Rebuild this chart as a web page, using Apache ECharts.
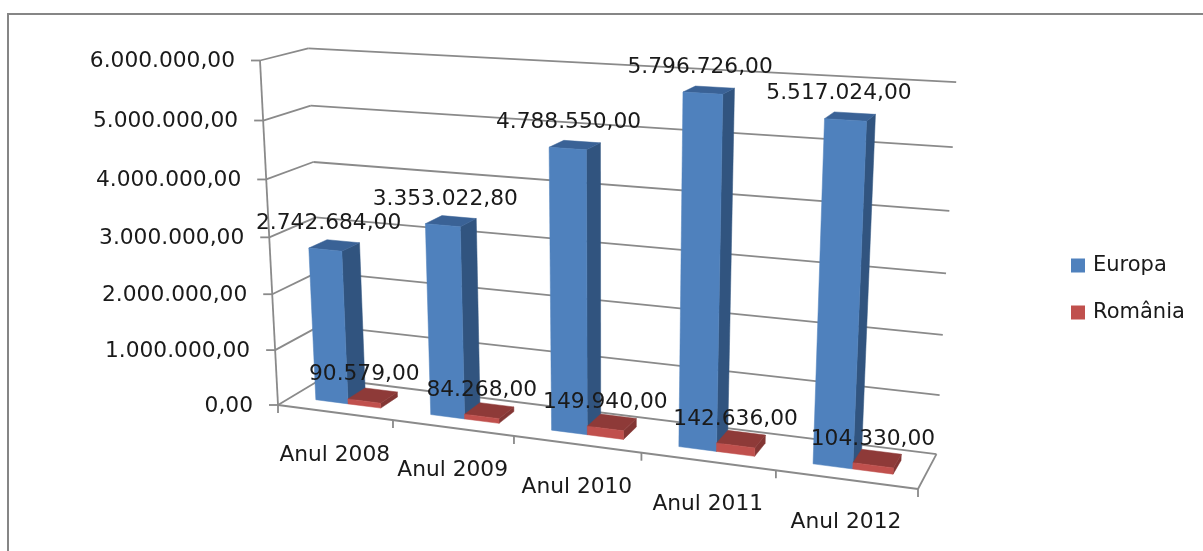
<!DOCTYPE html>
<html>
<head>
<meta charset="utf-8">
<style>html,body{margin:0;padding:0;background:#fff}#chart{width:1203px;height:551px}</style>
<script src="https://cdn.jsdelivr.net/npm/echarts@6/dist/echarts.min.js"></script>
</head>
<body>
<div id="chart"></div>
<script>
// Chart values
const categories = ['Anul 2008', 'Anul 2009', 'Anul 2010', 'Anul 2011', 'Anul 2012'];
const europa = [2742684.00, 3353022.80, 4788550.00, 5796726.00, 5517024.00];
const romania = [90579.00, 84268.00, 149940.00, 142636.00, 104330.00];
const valueTicks = [0, 1000000, 2000000, 3000000, 4000000, 5000000, 6000000];

// Number format: dot for thousands, comma for decimals
function fmt(v) {
  const [i, d] = v.toFixed(2).split('.');
  return i.replace(/\B(?=(\d{3})+$)/g, '.') + ',' + d;
}

// Homogeneous projection of the unit box (u across, v up, w into the page)
const O = [278, 405, 1];
function axisVec(px, py, s) { return [s * px - O[0], s * py - O[1], s - 1]; }
const U = axisVec(918, 489, 0.876);
const V = axisVec(260, 60.5, 0.948);
const W = axisVec(323, 378, 1.047);
function project(u, v, w) {
  const h = [0, 1, 2].map(i => O[i] + u * U[i] + v * V[i] + w * W[i]);
  return [h[0] / h[2], h[1] / h[2]];
}

const GRAY = '#8a8a8a';
const FONT = "'DejaVu Sans', sans-serif";
const TEXT_STRETCH = 1.035;
const BAR_W = 0.2 / 3.5;     // bar width in box units (gap is 1.5 bars)
const DEPTH_FRONT = 0.3, DEPTH_BACK = 0.7;

function line(a, b) {
  return { type: 'line', shape: { x1: a[0], y1: a[1], x2: b[0], y2: b[1] },
    style: { stroke: GRAY, lineWidth: 1.8 }, silent: true };
}
function quad(pts, fill) {
  return { type: 'polygon', shape: { points: pts }, style: { fill: fill, stroke: fill, lineWidth: 0.5 } };
}
function label(text, x, y, align) {
  return { type: 'text', x: x, y: y, scaleX: TEXT_STRETCH, z2: 100, silent: true,
    style: { text: text, x: 0, y: 0, align: align, verticalAlign: 'middle',
      fontSize: 21, fontFamily: FONT, fill: '#1a1a1a' } };
}

// Turns a data point into box coordinates through the grid's axes
function toBox(params, api, cat, val) {
  const r = params.coordSys;
  const c = api.coord([cat, val]);
  return { u: (c[0] - r.x) / r.width, v: 1 - (c[1] - r.y) / r.height };
}

function axesItem(params, api) {
  const val = api.value(0);
  const r = params.coordSys;
  const v = 1 - (api.coord([0, val])[1] - r.y) / r.height;
  const front = project(0, v, 0), back = project(0, v, 1), right = project(1, v, 1);
  const children = [
    line(front, back), line(back, right),
    line([front[0] - 9, front[1]], front),
    label(fmt(val), front[0] - 25, front[1] + 1.5, 'right')
  ];
  if (params.dataIndex === 0) {
    children.push(line(project(0, 0, 0), project(0, 1, 0)));
    children.push(line(project(0, 0, 0), project(1, 0, 0)));
    children.push(line(project(1, 0, 0), project(1, 0, 1)));
    for (let i = 0; i <= categories.length; i++) {
      const p = project(i / categories.length, 0, 0);
      children.push(line(p, [p[0], p[1] + 8]));
    }
  }
  return { type: 'group', children: children };
}

function categoryItem(params, api) {
  const cat = api.value(0);
  const b = toBox(params, api, cat, 0);
  const p = project(b.u, 0, 0);
  return label(categories[cat], p[0], p[1] + 43, 'center');
}

function barItem(slot, colors) {
  return function (params, api) {
    const cat = api.value(0), val = api.value(1);
    const b = toBox(params, api, cat, val);
    const u0 = b.u + (slot - 1) * BAR_W, u1 = u0 + BAR_W;
    const w0 = DEPTH_FRONT, w1 = DEPTH_BACK, v = b.v;
    const mid = project((u0 + u1) / 2, v / 2, w0);
    const top = project((u0 + u1) / 2, v, w0);
    return { type: 'group', children: [
      quad([project(u1, 0, w0), project(u1, 0, w1), project(u1, v, w1), project(u1, v, w0)], colors.side),
      quad([project(u0, v, w0), project(u1, v, w0), project(u1, v, w1), project(u0, v, w1)], colors.top),
      quad([project(u0, 0, w0), project(u1, 0, w0), project(u1, v, w0), project(u0, v, w0)], colors.front),
      label(fmt(val), mid[0], top[1] - 26, 'center')
    ] };
  };
}

const chart = echarts.init(document.getElementById('chart'), null, { renderer: 'canvas' });
chart.setOption({
  animation: false,
  backgroundColor: '#ffffff',
  graphic: [{
    type: 'polyline', silent: true,
    shape: { points: [[8, 551], [8, 14], [1203, 14]] },
    style: { stroke: '#868686', lineWidth: 2, fill: null }
  }],
  grid: { left: 100, right: 100, top: 100, bottom: 100 },
  xAxis: { type: 'category', data: categories, show: false },
  yAxis: { type: 'value', min: 0, max: 6000000, interval: 1000000, show: false },
  legend: {
    data: ['Europa', 'România'],
    orient: 'vertical', left: 1066, top: 250,
    icon: 'rect', itemWidth: 14, itemHeight: 14, itemGap: 26,
    textStyle: { fontSize: 21, fontFamily: FONT, color: '#1a1a1a', padding: [0, 0, 0, 3] },
    selectedMode: false
  },
  series: [
    { type: 'custom', name: 'axes', silent: true, coordinateSystem: 'cartesian2d', clip: false,
      encode: { y: 0 }, data: valueTicks.map(t => [t]),
      renderItem: axesItem },
    { type: 'custom', name: 'categories', silent: true, coordinateSystem: 'cartesian2d', clip: false,
      data: categories.map((c, i) => [i]), renderItem: categoryItem },
    { type: 'custom', name: 'Europa', coordinateSystem: 'cartesian2d', clip: false,
      itemStyle: { color: '#4F81BD' },
      data: europa.map((v, i) => [i, v]), encode: { x: 0, y: 1 },
      renderItem: barItem(0, { front: '#4F81BD', side: '#31547F', top: '#3A6296' }) },
    { type: 'custom', name: 'România', coordinateSystem: 'cartesian2d', clip: false,
      itemStyle: { color: '#C0504D' },
      data: romania.map((v, i) => [i, v]), encode: { x: 0, y: 1 },
      renderItem: barItem(1, { front: '#C0504D', side: '#833634', top: '#8E3A38' }) }
  ]
});
</script>
</body>
</html>
